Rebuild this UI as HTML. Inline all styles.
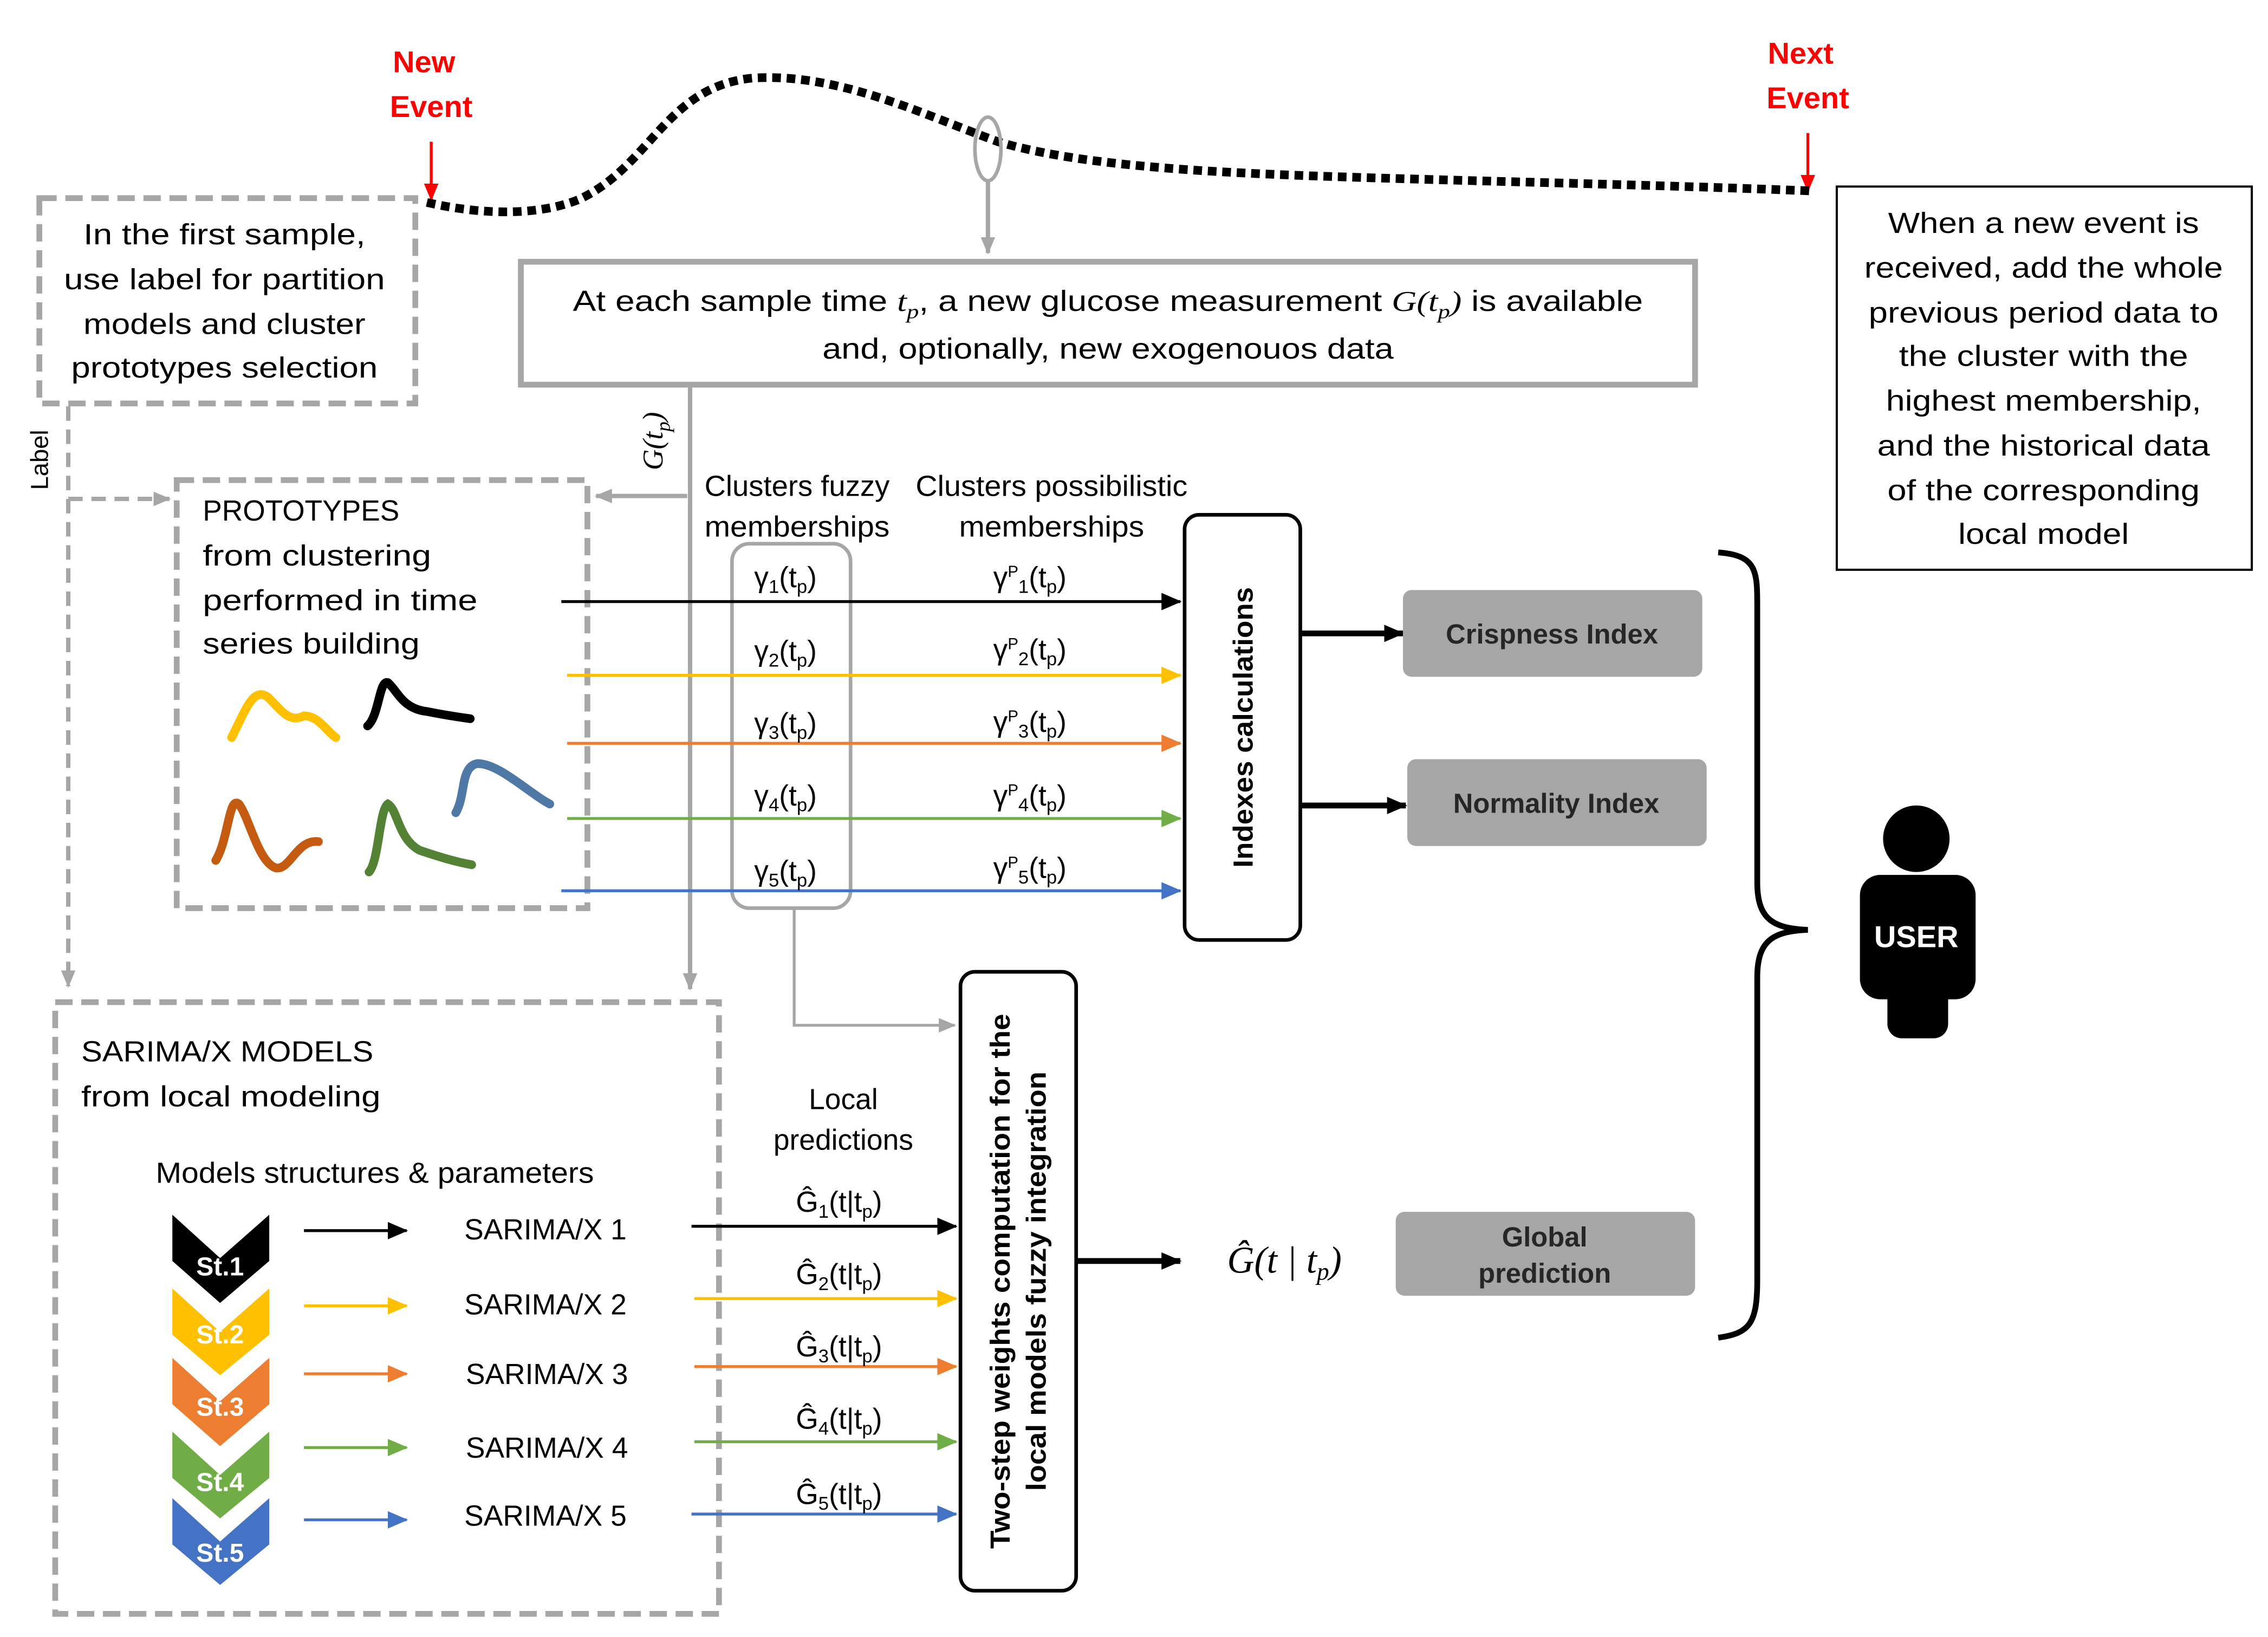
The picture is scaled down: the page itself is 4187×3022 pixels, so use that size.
<!DOCTYPE html>
<html><head><meta charset="utf-8"><style>
html,body{margin:0;padding:0;background:#fff}
svg{display:block}
text{font-family:"Liberation Sans",sans-serif;fill:#000}
</style></head><body>
<svg width="4187" height="3022" viewBox="0 0 1568 1132" xmlns="http://www.w3.org/2000/svg">
<defs>
<marker id="ak" markerWidth="14" markerHeight="12" refX="13" refY="6" orient="auto" markerUnits="userSpaceOnUse"><path d="M0,0 L14,6 L0,12z" fill="#000"/></marker>
<marker id="ab" markerWidth="14" markerHeight="12" refX="13" refY="6" orient="auto" markerUnits="userSpaceOnUse"><path d="M0,0 L14,6 L0,12z" fill="#000"/></marker>
<marker id="ag" markerWidth="12" markerHeight="10" refX="11" refY="5" orient="auto" markerUnits="userSpaceOnUse"><path d="M0,0 L12,5 L0,10z" fill="#a6a6a6"/></marker>
<marker id="ay" markerWidth="14" markerHeight="12" refX="13" refY="6" orient="auto" markerUnits="userSpaceOnUse"><path d="M0,0 L14,6 L0,12z" fill="#ffc000"/></marker>
<marker id="ao" markerWidth="14" markerHeight="12" refX="13" refY="6" orient="auto" markerUnits="userSpaceOnUse"><path d="M0,0 L14,6 L0,12z" fill="#ed7d31"/></marker>
<marker id="agr" markerWidth="14" markerHeight="12" refX="13" refY="6" orient="auto" markerUnits="userSpaceOnUse"><path d="M0,0 L14,6 L0,12z" fill="#70ad47"/></marker>
<marker id="abl" markerWidth="14" markerHeight="12" refX="13" refY="6" orient="auto" markerUnits="userSpaceOnUse"><path d="M0,0 L14,6 L0,12z" fill="#4472c4"/></marker>
<marker id="ar" markerWidth="12" markerHeight="10" refX="11" refY="5" orient="auto" markerUnits="userSpaceOnUse"><path d="M0,0 L12,5 L0,10z" fill="#f00"/></marker>
</defs>

<g font-weight="bold" font-size="21" text-anchor="middle">
<text x="293" y="50" style="fill:#f00">New</text><text x="298" y="81" style="fill:#f00">Event</text>
<text x="1245" y="44" style="fill:#f00">Next</text><text x="1250" y="75" style="fill:#f00">Event</text>
</g>
<line x1="298" y1="98" x2="298" y2="138" stroke="#f00" stroke-width="2" marker-end="url(#ar)"/>
<line x1="1250" y1="92" x2="1250" y2="132" stroke="#f00" stroke-width="2" marker-end="url(#ar)"/>

<path d="M295,140 C330,148 370,150 400,138 C450,115 460,60 520,54 C580,50 640,80 690,98 C750,116 850,120 950,123 C1050,126 1150,128 1252,132" fill="none" stroke="#000" stroke-width="6" stroke-dasharray="6 4"/>
<ellipse cx="683" cy="103" rx="9" ry="22" fill="none" stroke="#a6a6a6" stroke-width="2.5"/>
<line x1="683" y1="125" x2="683" y2="175" stroke="#a6a6a6" stroke-width="3" marker-end="url(#ag)"/>

<rect x="360" y="181" width="812" height="85" fill="#fff" stroke="#a6a6a6" stroke-width="4"/>
<text x="766" y="215" font-size="20" text-anchor="middle" textLength="740" lengthAdjust="spacingAndGlyphs">At each sample time <tspan font-family="Liberation Serif" font-style="italic">t<tspan font-size="14" dy="5">p</tspan></tspan><tspan dy="-5">, a new glucose measurement </tspan><tspan font-family="Liberation Serif" font-style="italic">G(t<tspan font-size="14" dy="5">p</tspan><tspan dy="-5">)</tspan></tspan> is available</text>
<text x="766" y="248" font-size="20" text-anchor="middle" textLength="395" lengthAdjust="spacingAndGlyphs">and, optionally, new exogenouos data</text>

<rect x="27" y="137" width="260" height="142" fill="none" stroke="#a6a6a6" stroke-width="4" stroke-dasharray="12 6"/>
<g font-size="20" text-anchor="middle">
<text x="155" y="169" textLength="195" lengthAdjust="spacingAndGlyphs">In the first sample,</text>
<text x="155" y="200" textLength="222" lengthAdjust="spacingAndGlyphs">use label for partition</text>
<text x="155" y="231" textLength="195" lengthAdjust="spacingAndGlyphs">models and cluster</text>
<text x="155" y="261" textLength="212" lengthAdjust="spacingAndGlyphs">prototypes selection</text>
</g>
<rect x="1270" y="129" width="287" height="265" fill="#fff" stroke="#000" stroke-width="1.5"/>
<g font-size="20" text-anchor="middle">
<text x="1413" y="161" textLength="215" lengthAdjust="spacingAndGlyphs">When a new event is</text>
<text x="1413" y="192" textLength="248" lengthAdjust="spacingAndGlyphs">received, add the whole</text>
<text x="1413" y="223" textLength="242" lengthAdjust="spacingAndGlyphs">previous period data to</text>
<text x="1413" y="253" textLength="200" lengthAdjust="spacingAndGlyphs">the cluster with the</text>
<text x="1413" y="284" textLength="218" lengthAdjust="spacingAndGlyphs">highest membership,</text>
<text x="1413" y="315" textLength="230" lengthAdjust="spacingAndGlyphs">and the historical data</text>
<text x="1413" y="346" textLength="216" lengthAdjust="spacingAndGlyphs">of the corresponding</text>
<text x="1413" y="376" textLength="118" lengthAdjust="spacingAndGlyphs">local model</text>
</g>

<text x="0" y="0" font-size="17" text-anchor="middle" transform="translate(33,318) rotate(-90)">Label</text>
<polyline points="47,281 47,682" fill="none" stroke="#a6a6a6" stroke-width="3" stroke-dasharray="10 6" marker-end="url(#ag)"/>
<line x1="47" y1="345" x2="117" y2="345" stroke="#a6a6a6" stroke-width="3" stroke-dasharray="10 6" marker-end="url(#ag)"/>

<rect x="122" y="332" width="284" height="296" fill="none" stroke="#a6a6a6" stroke-width="4" stroke-dasharray="12 6"/>
<g font-size="20">
<text x="140" y="360" textLength="136" lengthAdjust="spacingAndGlyphs">PROTOTYPES</text>
<text x="140" y="391" textLength="158" lengthAdjust="spacingAndGlyphs">from clustering</text>
<text x="140" y="422" textLength="190" lengthAdjust="spacingAndGlyphs">performed in time</text>
<text x="140" y="452" textLength="150" lengthAdjust="spacingAndGlyphs">series building</text>
</g>
<g fill="none" stroke-width="6" stroke-linecap="round">
<path d="M160,510 C170,490 175,475 185,482 C195,492 200,500 210,495 C220,495 225,505 232,510" stroke="#ffc000"/>
<path d="M254,502 C262,495 262,470 268,472 C275,478 278,490 295,492 C310,495 318,496 325,497" stroke="#000"/>
<path d="M315,562 C322,550 318,530 330,528 C345,528 365,548 380,556" stroke="#4e79a7"/>
<path d="M149,595 C158,580 158,550 165,556 C172,565 178,595 190,600 C200,603 205,580 220,582" stroke="#c55a11"/>
<path d="M255,603 C262,595 262,560 268,556 C275,560 275,580 290,588 C305,593 315,596 326,598" stroke="#548235"/>
</g>

<line x1="477" y1="266" x2="477" y2="684" stroke="#a6a6a6" stroke-width="3" marker-end="url(#ag)"/>
<line x1="475" y1="343" x2="412" y2="343" stroke="#a6a6a6" stroke-width="3" marker-end="url(#ag)"/>
<text x="0" y="0" font-size="20" font-style="italic" text-anchor="middle" transform="translate(458,305) rotate(-90)" style="font-family:'Liberation Serif',serif">G(t<tspan font-size="14" dy="5">p</tspan><tspan dy="-5">)</tspan></text>

<g font-size="20" text-anchor="middle">
<text x="551" y="343" textLength="128" lengthAdjust="spacingAndGlyphs">Clusters fuzzy</text>
<text x="551" y="371" textLength="128" lengthAdjust="spacingAndGlyphs">memberships</text>
<text x="727" y="343" textLength="188" lengthAdjust="spacingAndGlyphs">Clusters possibilistic</text>
<text x="727" y="371" textLength="128" lengthAdjust="spacingAndGlyphs">memberships</text>
</g>
<rect x="506" y="376" width="82" height="252" rx="12" fill="none" stroke="#a6a6a6" stroke-width="2.5"/>

<line x1="388" y1="416" x2="816" y2="416" stroke="#000" stroke-width="2" marker-end="url(#ak)"/>
<line x1="392" y1="467" x2="816" y2="467" stroke="#ffc000" stroke-width="2" marker-end="url(#ay)"/>
<line x1="392" y1="514" x2="816" y2="514" stroke="#ed7d31" stroke-width="2" marker-end="url(#ao)"/>
<line x1="392" y1="566" x2="816" y2="566" stroke="#70ad47" stroke-width="2" marker-end="url(#agr)"/>
<line x1="388" y1="616" x2="816" y2="616" stroke="#4472c4" stroke-width="2" marker-end="url(#abl)"/>

<g font-size="20" text-anchor="middle">
<text x="543" y="406">γ<tspan font-size="13" dy="4">1</tspan><tspan dy="-4">(t</tspan><tspan font-size="13" dy="4">p</tspan><tspan dy="-4">)</tspan></text>
<text x="543" y="457">γ<tspan font-size="13" dy="4">2</tspan><tspan dy="-4">(t</tspan><tspan font-size="13" dy="4">p</tspan><tspan dy="-4">)</tspan></text>
<text x="543" y="507">γ<tspan font-size="13" dy="4">3</tspan><tspan dy="-4">(t</tspan><tspan font-size="13" dy="4">p</tspan><tspan dy="-4">)</tspan></text>
<text x="543" y="557">γ<tspan font-size="13" dy="4">4</tspan><tspan dy="-4">(t</tspan><tspan font-size="13" dy="4">p</tspan><tspan dy="-4">)</tspan></text>
<text x="543" y="609">γ<tspan font-size="13" dy="4">5</tspan><tspan dy="-4">(t</tspan><tspan font-size="13" dy="4">p</tspan><tspan dy="-4">)</tspan></text>
<text x="712" y="406">γ<tspan font-size="11" dy="-7">P</tspan><tspan font-size="13" dy="11">1</tspan><tspan dy="-4">(t</tspan><tspan font-size="13" dy="4">p</tspan><tspan dy="-4">)</tspan></text>
<text x="712" y="456">γ<tspan font-size="11" dy="-7">P</tspan><tspan font-size="13" dy="11">2</tspan><tspan dy="-4">(t</tspan><tspan font-size="13" dy="4">p</tspan><tspan dy="-4">)</tspan></text>
<text x="712" y="506">γ<tspan font-size="11" dy="-7">P</tspan><tspan font-size="13" dy="11">3</tspan><tspan dy="-4">(t</tspan><tspan font-size="13" dy="4">p</tspan><tspan dy="-4">)</tspan></text>
<text x="712" y="557">γ<tspan font-size="11" dy="-7">P</tspan><tspan font-size="13" dy="11">4</tspan><tspan dy="-4">(t</tspan><tspan font-size="13" dy="4">p</tspan><tspan dy="-4">)</tspan></text>
<text x="712" y="607">γ<tspan font-size="11" dy="-7">P</tspan><tspan font-size="13" dy="11">5</tspan><tspan dy="-4">(t</tspan><tspan font-size="13" dy="4">p</tspan><tspan dy="-4">)</tspan></text>
</g>

<rect x="819" y="356" width="80" height="294" rx="10" fill="#fff" stroke="#000" stroke-width="2.5"/>
<text x="0" y="0" font-size="19" font-weight="bold" text-anchor="middle" transform="translate(866,503) rotate(-90)" textLength="194" lengthAdjust="spacingAndGlyphs">Indexes calculations</text>
<line x1="899" y1="438" x2="970" y2="438" stroke="#000" stroke-width="4" marker-end="url(#ab)"/>
<line x1="899" y1="557" x2="972" y2="557" stroke="#000" stroke-width="4" marker-end="url(#ab)"/>
<rect x="970" y="408" width="207" height="60" rx="6" fill="#a6a6a6"/>
<rect x="973" y="525" width="207" height="60" rx="6" fill="#a6a6a6"/>
<text x="1073" y="445" font-size="19" font-weight="bold" text-anchor="middle" style="fill:#262626">Crispness Index</text>
<text x="1076" y="562" font-size="19" font-weight="bold" text-anchor="middle" style="fill:#262626">Normality Index</text>

<path d="M1188,382 C1215,384 1215,395 1215,420 L1215,610 C1215,635 1225,642 1250,643 C1225,644 1215,651 1215,676 L1215,885 C1215,915 1210,922 1188,925" fill="none" stroke="#000" stroke-width="4"/>

<circle cx="1325" cy="580" r="23" fill="#000"/>
<rect x="1286" y="605" width="80" height="86" rx="14" fill="#000"/>
<rect x="1305" y="660" width="42" height="58" rx="10" fill="#000"/>
<text x="1325" y="655" font-size="21" font-weight="bold" text-anchor="middle" style="fill:#fff">USER</text>

<polyline points="549,628 549,709 660,709" fill="none" stroke="#a6a6a6" stroke-width="2" marker-end="url(#ag)"/>

<rect x="664" y="672" width="80" height="428" rx="10" fill="#fff" stroke="#000" stroke-width="2.5"/>
<text x="0" y="0" font-size="19" font-weight="bold" text-anchor="middle" transform="translate(698,886) rotate(-90)" textLength="370" lengthAdjust="spacingAndGlyphs">Two-step weights computation for the</text>
<text x="0" y="0" font-size="19" font-weight="bold" text-anchor="middle" transform="translate(723,886) rotate(-90)" textLength="290" lengthAdjust="spacingAndGlyphs">local models fuzzy integration</text>
<line x1="745" y1="872" x2="816" y2="872" stroke="#000" stroke-width="4" marker-end="url(#ab)"/>
<text x="888" y="880" font-size="26" font-style="italic" text-anchor="middle" style="font-family:'Liberation Serif',serif">Ĝ(t | t<tspan font-size="17" dy="5">p</tspan><tspan dy="-5">)</tspan></text>
<rect x="965" y="838" width="207" height="58" rx="6" fill="#a6a6a6"/>
<text x="1068" y="862" font-size="19" font-weight="bold" text-anchor="middle" style="fill:#262626">Global</text>
<text x="1068" y="887" font-size="19" font-weight="bold" text-anchor="middle" style="fill:#262626">prediction</text>

<rect x="38" y="693" width="459" height="423" fill="none" stroke="#a6a6a6" stroke-width="4" stroke-dasharray="12 6"/>
<g font-size="20">
<text x="56" y="734" textLength="202" lengthAdjust="spacingAndGlyphs">SARIMA/X MODELS</text>
<text x="56" y="765" textLength="207" lengthAdjust="spacingAndGlyphs">from local modeling</text>
<text x="259" y="818" text-anchor="middle" textLength="303" lengthAdjust="spacingAndGlyphs">Models structures &amp; parameters</text>
<text x="583" y="767" text-anchor="middle">Local</text>
<text x="583" y="795" text-anchor="middle">predictions</text>
</g>

<g>
<path d="M119,1036 L152,1066 L186,1036 L186,1068 L152,1096 L119,1068z" fill="#4472c4"/>
<path d="M119,990 L152,1020 L186,990 L186,1022 L152,1050 L119,1022z" fill="#70ad47"/>
<path d="M119,939 L152,969 L186,939 L186,971 L152,1000 L119,971z" fill="#ed7d31"/>
<path d="M119,891 L152,921 L186,891 L186,923 L152,951 L119,923z" fill="#ffc000"/>
<path d="M119,840 L152,870 L186,840 L186,872 L152,901 L119,872z" fill="#000"/>
</g>
<g font-size="18" font-weight="bold" text-anchor="middle">
<text x="152" y="882" style="fill:#fff">St.1</text>
<text x="152" y="929" style="fill:#fff">St.2</text>
<text x="152" y="979" style="fill:#fff">St.3</text>
<text x="152" y="1031" style="fill:#fff">St.4</text>
<text x="152" y="1080" style="fill:#fff">St.5</text>
</g>
<line x1="210" y1="851" x2="281" y2="851" stroke="#000" stroke-width="2" marker-end="url(#ak)"/>
<line x1="210" y1="903" x2="281" y2="903" stroke="#ffc000" stroke-width="2" marker-end="url(#ay)"/>
<line x1="210" y1="950" x2="281" y2="950" stroke="#ed7d31" stroke-width="2" marker-end="url(#ao)"/>
<line x1="210" y1="1001" x2="281" y2="1001" stroke="#70ad47" stroke-width="2" marker-end="url(#agr)"/>
<line x1="210" y1="1051" x2="281" y2="1051" stroke="#4472c4" stroke-width="2" marker-end="url(#abl)"/>
<g font-size="20" text-anchor="middle">
<text x="377" y="857">SARIMA/X 1</text>
<text x="377" y="909">SARIMA/X 2</text>
<text x="378" y="957">SARIMA/X 3</text>
<text x="378" y="1008">SARIMA/X 4</text>
<text x="377" y="1055">SARIMA/X 5</text>
</g>
<line x1="478" y1="848" x2="661" y2="848" stroke="#000" stroke-width="2" marker-end="url(#ak)"/>
<line x1="480" y1="898" x2="661" y2="898" stroke="#ffc000" stroke-width="2" marker-end="url(#ay)"/>
<line x1="480" y1="945" x2="661" y2="945" stroke="#ed7d31" stroke-width="2" marker-end="url(#ao)"/>
<line x1="480" y1="997" x2="661" y2="997" stroke="#70ad47" stroke-width="2" marker-end="url(#agr)"/>
<line x1="478" y1="1047" x2="661" y2="1047" stroke="#4472c4" stroke-width="2" marker-end="url(#abl)"/>
<g font-size="20" text-anchor="middle">
<text x="580" y="838">Ĝ<tspan font-size="13" dy="4">1</tspan><tspan dy="-4">(t|t</tspan><tspan font-size="13" dy="4">p</tspan><tspan dy="-4">)</tspan></text>
<text x="580" y="888">Ĝ<tspan font-size="13" dy="4">2</tspan><tspan dy="-4">(t|t</tspan><tspan font-size="13" dy="4">p</tspan><tspan dy="-4">)</tspan></text>
<text x="580" y="938">Ĝ<tspan font-size="13" dy="4">3</tspan><tspan dy="-4">(t|t</tspan><tspan font-size="13" dy="4">p</tspan><tspan dy="-4">)</tspan></text>
<text x="580" y="988">Ĝ<tspan font-size="13" dy="4">4</tspan><tspan dy="-4">(t|t</tspan><tspan font-size="13" dy="4">p</tspan><tspan dy="-4">)</tspan></text>
<text x="580" y="1040">Ĝ<tspan font-size="13" dy="4">5</tspan><tspan dy="-4">(t|t</tspan><tspan font-size="13" dy="4">p</tspan><tspan dy="-4">)</tspan></text>
</g>
</svg>
</body></html>
